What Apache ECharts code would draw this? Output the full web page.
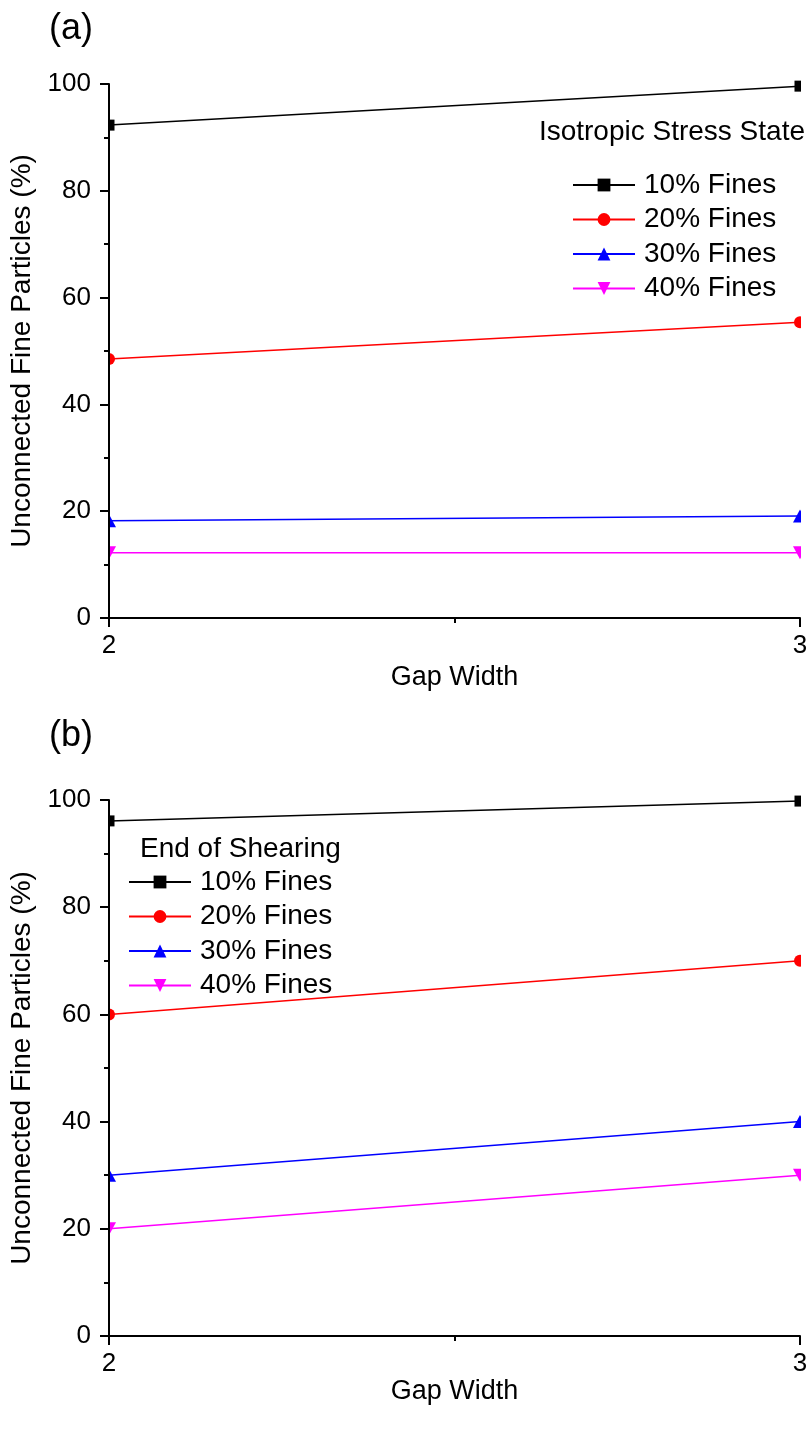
<!DOCTYPE html>
<html><head><meta charset="utf-8">
<script src="https://cdn.jsdelivr.net/npm/echarts@6/dist/echarts.min.js"></script>
<style>html,body{margin:0;padding:0;background:#fff}#c{width:811px;height:1429px}</style>
</head><body><div id="c"></div>
<script>
const gapWidths = [2, 3];
const seriesNames = ['10% Fines', '20% Fines', '30% Fines', '40% Fines'];
const isoValues = {
  f10: [92.3, 99.6],
  f20: [48.5, 55.4],
  f30: [18.2, 19.1],
  f40: [12.2, 12.2]
};
const shearValues = {
  f10: [96.1, 99.8],
  f20: [60, 70],
  f30: [30, 40],
  f40: [20, 30]
};
const iso10 = isoValues.f10, iso20 = isoValues.f20, iso30 = isoValues.f30, iso40 = isoValues.f40;
const sh10 = shearValues.f10, sh20 = shearValues.f20, sh30 = shearValues.f30, sh40 = shearValues.f40;
const yTicks = [0, 20, 40, 60, 80, 100];

const FONT = '"Liberation Sans", Arial, sans-serif';
const colors = ['#000000', '#ff0000', '#0000ff', '#ff00ff'];
const symbols = ['rect', 'circle', 'triangle', 'path://M0,0L12,0L6,11Z'];
const symbolSizes = [11, 12, [14, 13], [14, 13]];

function mkSeries(name, data, idx, axisIdx) {
  return {
    type: 'line', name: name, xAxisIndex: axisIdx, yAxisIndex: axisIdx,
    data: gapWidths.map((g, i) => [g, data[i]]),
    symbol: symbols[idx], symbolSize: symbolSizes[idx], showSymbol: true,
    lineStyle: { color: colors[idx], width: 1.5 },
    itemStyle: { color: colors[idx] },
    clip: true, z: 2, animation: false
  };
}

const grids = [
  { left: 109, top: 84, width: 691, height: 534 },
  { left: 109, top: 800, width: 691, height: 536 }
];

function xAx(i, gap) {
  return {
    type: 'value', gridIndex: i, min: 2, max: 3, interval: 1, z: 5,
    name: 'Gap Width', nameLocation: 'middle', nameGap: gap,
    nameTextStyle: { fontFamily: FONT, fontSize: 27, color: '#000' },
    axisLine: { show: true, onZero: false, lineStyle: { color: '#000', width: 2 } },
    axisTick: { show: true, inside: false, length: 9, lineStyle: { color: '#000', width: 2 } },
    minorTick: { show: true, splitNumber: 2, length: 5, lineStyle: { color: '#000', width: 2 } },
    axisLabel: { fontFamily: FONT, fontSize: 26, color: '#000', margin: 15 },
    splitLine: { show: false }, minorSplitLine: { show: false }
  };
}
function yAx(i) {
  return {
    type: 'value', gridIndex: i, min: 0, max: 100, interval: 20, z: 5,
    name: 'Unconnected Fine Particles (%)', nameLocation: 'middle', nameGap: 61,
    nameTextStyle: { fontFamily: FONT, fontSize: 28, color: '#000' },
    axisLine: { show: true, onZero: false, lineStyle: { color: '#000', width: 2 } },
    axisTick: { show: true, inside: false, length: 9, lineStyle: { color: '#000', width: 2 } },
    minorTick: { show: true, splitNumber: 2, length: 5, lineStyle: { color: '#000', width: 2 } },
    axisLabel: { fontFamily: FONT, fontSize: 26, color: '#000', margin: 18,
      formatter: v => yTicks.includes(v) ? String(v) : '' },
    splitLine: { show: false }, minorSplitLine: { show: false }
  };
}

const legendCommon = {
  orient: 'vertical', itemWidth: 62, itemHeight: 16, itemGap: 6.5, padding: 0,
  textStyle: { fontFamily: FONT, fontSize: 28, color: '#000', lineHeight: 28, padding: [0, 0, 0, 4] },
  symbolRotate: 'inherit', selectedMode: false
};

const whiteRects = [];
grids.forEach(g => {
  whiteRects.push({ type: 'rect', z: 3, silent: true,
    shape: { x: 90, y: g.top - 10, width: g.left - 90 - 0.5, height: g.height + 10 },
    style: { fill: '#fff' } });
  whiteRects.push({ type: 'rect', z: 3, silent: true,
    shape: { x: g.left + g.width + 1, y: g.top - 10, width: 20, height: g.height + 10 },
    style: { fill: '#fff' } });
});

const option = {
  backgroundColor: '#fff',
  animation: false,
  grid: grids,
  xAxis: [xAx(0, 46), xAx(1, 42)],
  yAxis: [yAx(0), yAx(1)],
  legend: [
    Object.assign({}, legendCommon, { left: 572, top: 171,
      data: seriesNames.map(n => ({ name: n })) }),
    Object.assign({}, legendCommon, { left: 128, top: 868,
      data: seriesNames.map(n => ({ name: n + ' ' })) })
  ],
  graphic: whiteRects.concat([
    { type: 'text', left: 49, top: 11, z: 10, style: { text: '(a)', font: '36px ' + FONT, fill: '#000' } },
    { type: 'text', left: 49, top: 718, z: 10, style: { text: '(b)', font: '36px ' + FONT, fill: '#000' } },
    { type: 'text', right: 6, top: 118, z: 10, style: { text: 'Isotropic Stress State', font: '28px ' + FONT, fill: '#000' } },
    { type: 'text', left: 140, top: 835, z: 10, style: { text: 'End of Shearing', font: '28px ' + FONT, fill: '#000' } }
  ]),
  series: [
    mkSeries(seriesNames[0], iso10, 0, 0),
    mkSeries(seriesNames[1], iso20, 1, 0),
    mkSeries(seriesNames[2], iso30, 2, 0),
    mkSeries(seriesNames[3], iso40, 3, 0),
    mkSeries(seriesNames[0] + ' ', sh10, 0, 1),
    mkSeries(seriesNames[1] + ' ', sh20, 1, 1),
    mkSeries(seriesNames[2] + ' ', sh30, 2, 1),
    mkSeries(seriesNames[3] + ' ', sh40, 3, 1)
  ]
};
echarts.init(document.getElementById('c'), null, { renderer: 'canvas' }).setOption(option);
</script>
</body></html>
